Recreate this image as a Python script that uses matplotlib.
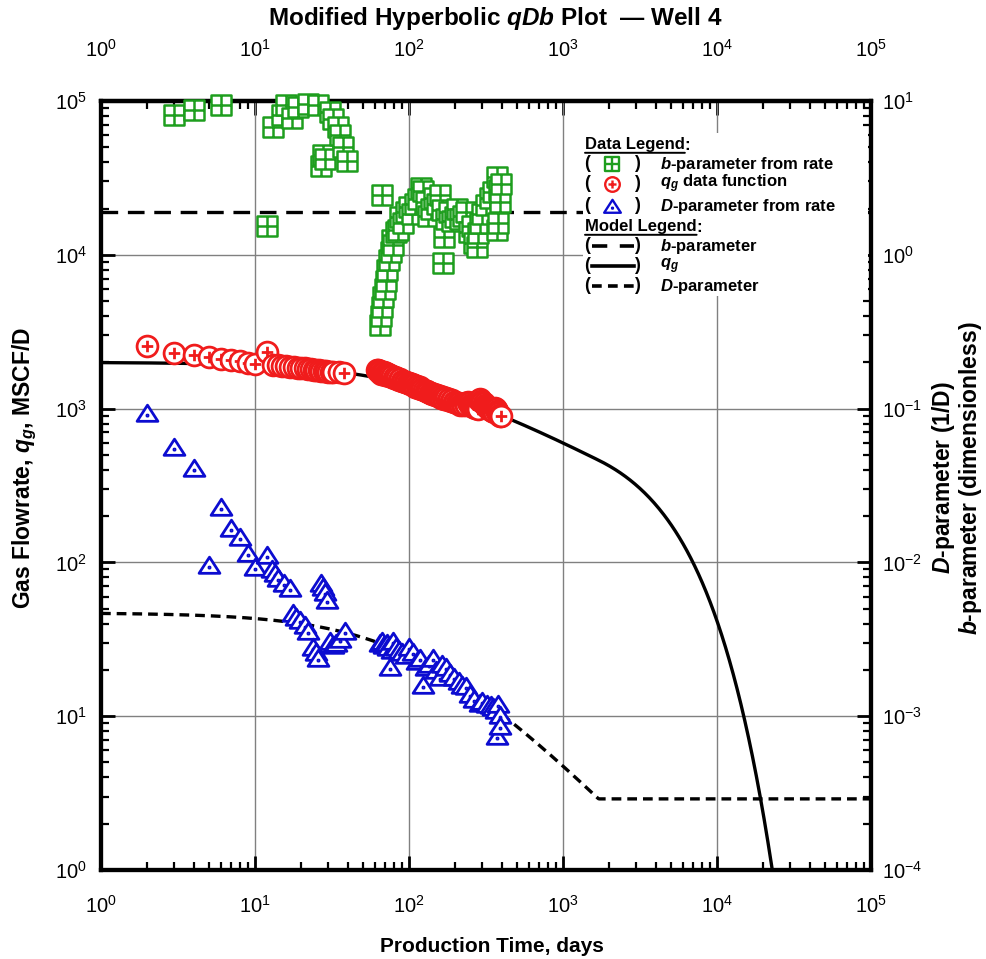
import numpy as np
import matplotlib
matplotlib.use('Agg')
import matplotlib.pyplot as plt
from matplotlib.path import Path
from matplotlib.patches import Rectangle

plt.rcParams['font.family'] = ['Liberation Sans', 'DejaVu Sans']
plt.rcParams['mathtext.fontset'] = 'custom'
plt.rcParams['mathtext.rm'] = 'Liberation Sans:bold'
plt.rcParams['mathtext.it'] = 'Liberation Sans:italic:bold'
plt.rcParams['mathtext.bf'] = 'Liberation Sans:bold'
plt.rcParams['lines.scale_dashes'] = False

# ---- production data: time (days) and gas rate (MSCF/D)
t_q = [2, 3, 4, 5, 6, 7, 8, 9, 10, 12, 13, 14, 15, 16, 17, 18, 19, 20, 21, 22,
       23, 24, 25, 26, 27, 28, 29, 30, 31, 32, 35, 38,
       62, 63, 64, 65, 66, 67, 68, 69, 70, 71, 72, 73, 74, 75, 77, 78, 80, 81,
       83, 84, 86, 88, 90, 92, 94, 96, 98, 100, 102, 104, 106, 108, 110, 112,
       115, 118, 120, 122, 125, 128, 130, 133, 136, 139, 142, 145, 148, 152,
       155, 158, 162, 166, 170, 174, 178, 182, 186, 190, 195, 200, 205, 210,
       215, 220, 225, 230, 235, 240, 245, 250, 255, 260, 265, 270, 275, 280,
       285, 290, 295, 300, 305, 310, 315, 320, 325, 330, 335, 340, 345, 350,
       355, 360, 365, 370, 375, 380, 385, 390, 395]
q_data = [2550, 2300, 2230, 2150, 2100, 2070, 2030, 1990, 1950, 2340, 1930, 1920,
          1900, 1880, 1870, 1860, 1850, 1840, 1830, 1810, 1800, 1790, 1780, 1770,
          1760, 1750, 1745, 1740, 1735, 1730, 1720, 1710,
          1790, 1770, 1720, 1760, 1690, 1740, 1700, 1720, 1660, 1700, 1650, 1680,
          1630, 1660, 1610, 1640, 1590, 1600, 1560, 1580, 1540, 1550, 1510, 1520,
          1490, 1500, 1460, 1470, 1440, 1450, 1420, 1430, 1390, 1400, 1370, 1380,
          1350, 1340, 1330, 1310, 1300, 1290, 1270, 1260, 1240, 1250, 1220, 1230,
          1200, 1210, 1180, 1190, 1160, 1170, 1140, 1150, 1120, 1130, 1100, 1110,
          1080, 1090, 1060, 1070, 1050, 1080, 1060, 1100, 1080, 1050, 1060, 1030,
          1040, 1010, 1020, 1000, 1130, 1160, 1120, 1100, 1080, 1060, 1040, 1030,
          1010, 1000, 990, 980, 970, 960, 950, 1010, 990, 970, 950, 930, 910, 900,
          890]

# ---- b-parameter computed from rate
t_b = [3, 4, 6, 12, 13, 14.9, 16, 17.3, 19, 22, 25.7, 27, 27.7, 28.5, 30.5, 32,
       34.6, 35.7, 37, 39.4,
       65, 66, 66.5, 67, 68, 70, 71, 72, 74, 76, 77, 79, 82, 85, 88, 92, 96, 100,
       105, 110, 115, 120, 124, 128, 132, 138, 145, 152, 160, 165, 166, 170, 175,
       182, 190, 198, 205, 215, 225, 236, 245, 255, 265, 275, 282, 290, 300, 315,
       335, 350, 372, 375, 380, 385, 390, 395]
b_data = [8.1, 8.7, 9.4, 1.55, 6.8, 8.1, 9.4, 7.7, 9.1, 9.6, 9.4, 3.8, 4.45, 4.2,
          8.5, 7.6, 6.8, 6.0, 5.0, 4.1,
          0.35, 0.40, 2.45, 0.46, 0.53, 0.60, 0.68, 0.80, 0.92, 1.05, 1.25, 1.15,
          1.40, 1.45, 1.75, 1.60, 1.90, 2.05, 1.85, 2.15, 2.30, 2.70, 2.60, 2.20,
          1.80, 2.00, 2.35, 2.15, 2.45, 1.95, 0.88, 1.30, 1.70, 1.90, 1.65, 1.75,
          2.00, 1.70, 1.80, 1.90, 1.40, 1.55, 1.20, 1.13, 1.38, 1.60, 1.85, 2.10,
          2.35, 2.55, 3.20, 1.45, 1.60, 2.65, 2.20, 2.90]

# ---- D-parameter computed from rate (1/D)
t_D = [2, 3, 4, 5, 6, 7, 8, 9, 10, 12, 12.8, 13.5, 14.2, 15.5, 16.9, 17.7, 18.5,
       19.6, 21, 22.2, 23.9, 24.8, 25.8, 27, 27.7, 28.5, 29.3, 30.6, 32, 33.5,
       35.6, 38.4,
       65, 67, 69, 71.5, 73, 75, 77, 78.6, 82, 86, 90, 95, 100, 106, 112, 118,
       123, 128, 135, 143, 150, 158, 165, 175, 185, 195, 210, 222, 236, 250, 265,
       288, 300, 320, 340, 352, 365, 370, 380, 390, 392]
D_data = [0.093, 0.0565, 0.041, 0.0096, 0.023, 0.0167, 0.0146, 0.0115, 0.0093,
          0.0112, 0.0091, 0.0085, 0.0079, 0.0073, 0.0068, 0.0047, 0.0044, 0.0042,
          0.0039, 0.0036, 0.0028, 0.0026, 0.0024, 0.0073, 0.0069, 0.0064, 0.0057,
          0.0031, 0.0029, 0.0030, 0.0032, 0.0036,
          0.0030, 0.0031, 0.0029, 0.0030, 0.0028, 0.0021, 0.0027, 0.0031, 0.0028,
          0.0027, 0.0026, 0.0025, 0.0028, 0.0026, 0.0023, 0.0024, 0.0016, 0.0021,
          0.0022, 0.0024, 0.0020, 0.0018, 0.0022, 0.0021, 0.0019, 0.0018, 0.0017,
          0.0016, 0.00156, 0.0014, 0.0013, 0.00121, 0.00125, 0.0012, 0.00118,
          0.00115, 0.0011, 0.00074, 0.0012, 0.00102, 0.00086]

# ---- modified hyperbolic model parameters
q_i = 2000.0      # MSCF/D
D_i = 4.7e-3      # 1/D
b_model = 1.9
D_lim = 2.9e-4    # 1/D

decades = [1e0, 1e1, 1e2, 1e3, 1e4, 1e5]

t = np.logspace(0, 5, 800)
t_lim = (D_i / D_lim - 1) / (b_model * D_i)
q_lim = q_i * (1 + b_model * D_i * t_lim) ** (-1 / b_model)
q_model = np.where(t < t_lim,
                   q_i * (1 + b_model * D_i * t) ** (-1 / b_model),
                   q_lim * np.exp(-D_lim * (t - t_lim)))
D_model = np.where(t < t_lim, D_i / (1 + b_model * D_i * t), D_lim)
b_line = np.full_like(t, b_model)

# ---- marker shapes
MOVE, LINE, CLOSE = Path.MOVETO, Path.LINETO, Path.CLOSEPOLY
sq_plus = Path.make_compound_path(
    Path([(-1, -1), (1, -1), (1, 1), (-1, 1), (-1, -1)], [MOVE, LINE, LINE, LINE, CLOSE]),
    Path([(0, -1), (0, 1)], [MOVE, LINE]),
    Path([(-1, 0), (1, 0)], [MOVE, LINE]))
circ_plus = Path.make_compound_path(
    Path.unit_circle(),
    Path([(0, -0.55), (0, 0.55)], [MOVE, LINE]),
    Path([(-0.55, 0), (0.55, 0)], [MOVE, LINE]))
d = 0.05
tri_dot = Path.make_compound_path(
    Path([(0, 0.8), (-1, -0.75), (1, -0.75), (0, 0.8)], [MOVE, LINE, LINE, CLOSE]),
    Path([(-d, -0.2 - d), (d, -0.2 - d), (d, -0.2 + d), (-d, -0.2 + d), (-d, -0.2 - d)],
         [MOVE, LINE, LINE, LINE, CLOSE]))

GREEN = '#1e9e1e'
RED = '#f01c1c'
BLUE = '#0c0cd0'

fig = plt.figure(figsize=(9.87, 9.59), dpi=100)
ax = fig.add_axes([101 / 987, 1 - 870 / 959, 770 / 987, 769 / 959])
ax.set_xscale('log')
ax.set_yscale('log')
ax.set_xlim(1, 1e5)
ax.set_ylim(1, 1e5)
ax.grid(True, which='major', color='#808080', lw=1.0)

ax.plot(t, q_model, color='black', lw=2.4, zorder=3)
ax.plot(t_q, q_data, ls='none', marker=circ_plus, ms=15, mfc='white',
        mec=RED, mew=2.0, zorder=4)

ax2 = ax.twinx()
ax2.set_yscale('log')
ax2.set_ylim(1e-4, 10)

ax2.plot(t, b_line, color='black', lw=2.4, dashes=(12, 7))
ax2.plot(t, D_model, color='black', lw=2.4, dashes=(7, 4.3))
ax2.plot(t_b, b_data, ls='none', marker=sq_plus, ms=14, mfc='white',
         mec=GREEN, mew=1.8, clip_on=False, zorder=4)
ax2.plot(t_D, D_data, ls='none', marker=tri_dot, ms=15, mfc='white',
         mec=BLUE, mew=2.0, zorder=4)

# top tick labels sit further from the frame than the bottom ones
top = ax.secondary_xaxis('top')
top.set_xticks(decades)

for a in (ax, ax2, top):
    for s in a.spines.values():
        s.set_linewidth(3)
ax.tick_params(which='both', direction='in', top=False, right=False,
               labelsize=14.5)
ax.tick_params(axis='x', pad=18)
ax.tick_params(axis='y', pad=10)
top.tick_params(which='both', direction='in', labelsize=14.5, pad=29)
for a in (ax, ax2, top):
    a.tick_params(which='major', length=10, width=2)
    a.tick_params(which='minor', length=6, width=1.6)
ax2.tick_params(which='both', direction='in', labelsize=14.5, pad=8)


# ---- legend block (pixel positions converted to axes fraction)
def af(x, y):
    return (x - 101) / 770, (870 - y) / 769


x0, y0 = af(583, 296)
x1, y1 = af(868, 133)
ax2.add_patch(Rectangle((x0, y0), x1 - x0, y1 - y0, transform=ax2.transAxes,
                        facecolor='white', edgecolor='none', zorder=10))

fs = 12
tr = ax2.transAxes


def heading(y, label):
    txt = ax2.text(*af(585, y), label, transform=tr, fontsize=fs, fontweight='bold',
                   va='center', ha='left', zorder=11)
    ax2.annotate(':', xy=(1, 0.5), xycoords=txt, va='center', ha='left',
                 fontsize=fs, fontweight='bold', zorder=11)
    ax2.annotate('', xy=(0, -0.02), xycoords=txt, xytext=(1, -0.02), textcoords=txt,
                 arrowprops=dict(arrowstyle='-', lw=1.4, color='black',
                                 shrinkA=0, shrinkB=0), zorder=11)


def row(y, label):
    ax2.text(*af(584, y), '(', transform=tr, fontsize=fs + 1, fontweight='bold',
             va='center', ha='left', zorder=11)
    ax2.text(*af(640, y), ')', transform=tr, fontsize=fs + 1, fontweight='bold',
             va='center', ha='right', zorder=11)
    ax2.text(*af(660, y), label, transform=tr, fontsize=fs, fontweight='bold',
             va='center', ha='left', zorder=11)


heading(145, 'Data Legend')
row(164, '$b$-parameter from rate')
row(184, '$q_g$ data function')
row(206, '$D$-parameter from rate')
heading(227, 'Model Legend')
row(246, '$b$-parameter')
row(266, '$q_g$')
row(286, '$D$-parameter')

mx, _ = af(612, 0)
for y, mk, c, ms in [(164, sq_plus, GREEN, 10), (184, circ_plus, RED, 10.5),
                     (206, tri_dot, BLUE, 12)]:
    ax2.plot([mx], [af(0, y)[1]], transform=tr, ls='none', marker=mk, ms=ms,
             mfc='white', mec=c, mew=1.7, clip_on=False, zorder=12)
lx0, _ = af(592, 0)
lx1, _ = af(634, 0)
for y, ds in [(246, (11, 9)), (266, None), (286, (7, 4.5))]:
    yy = af(0, y)[1]
    ln, = ax2.plot([lx0, lx1], [yy, yy], transform=tr, color='black', lw=2.6,
                   clip_on=False, zorder=12)
    if ds:
        ln.set_dashes(ds)

# ---- titles and axis labels
fig.text(495 / 987, 1 - 19 / 959, 'Modified Hyperbolic $qDb$ Plot  \u2014 Well 4',
         ha='center', va='center', fontsize=17.5, fontweight='bold')
fig.text(492 / 987, 1 - 946 / 959, 'Production Time, days', ha='center',
         va='center', fontsize=15, fontweight='bold')
fig.text(25 / 987, 1 - 468 / 959, 'Gas Flowrate, $q_g$, MSCF/D', ha='center',
         va='center', rotation=90, fontsize=16.5, fontweight='bold')
fig.text(957 / 987, 1 - 478 / 959,
         '$D$-parameter (1/D)\n$b$-parameter (dimensionless)', ha='center',
         va='center', rotation=90, fontsize=16.5, fontweight='bold',
         multialignment='center', linespacing=1.0)

fig.savefig('out.png', dpi=100)
